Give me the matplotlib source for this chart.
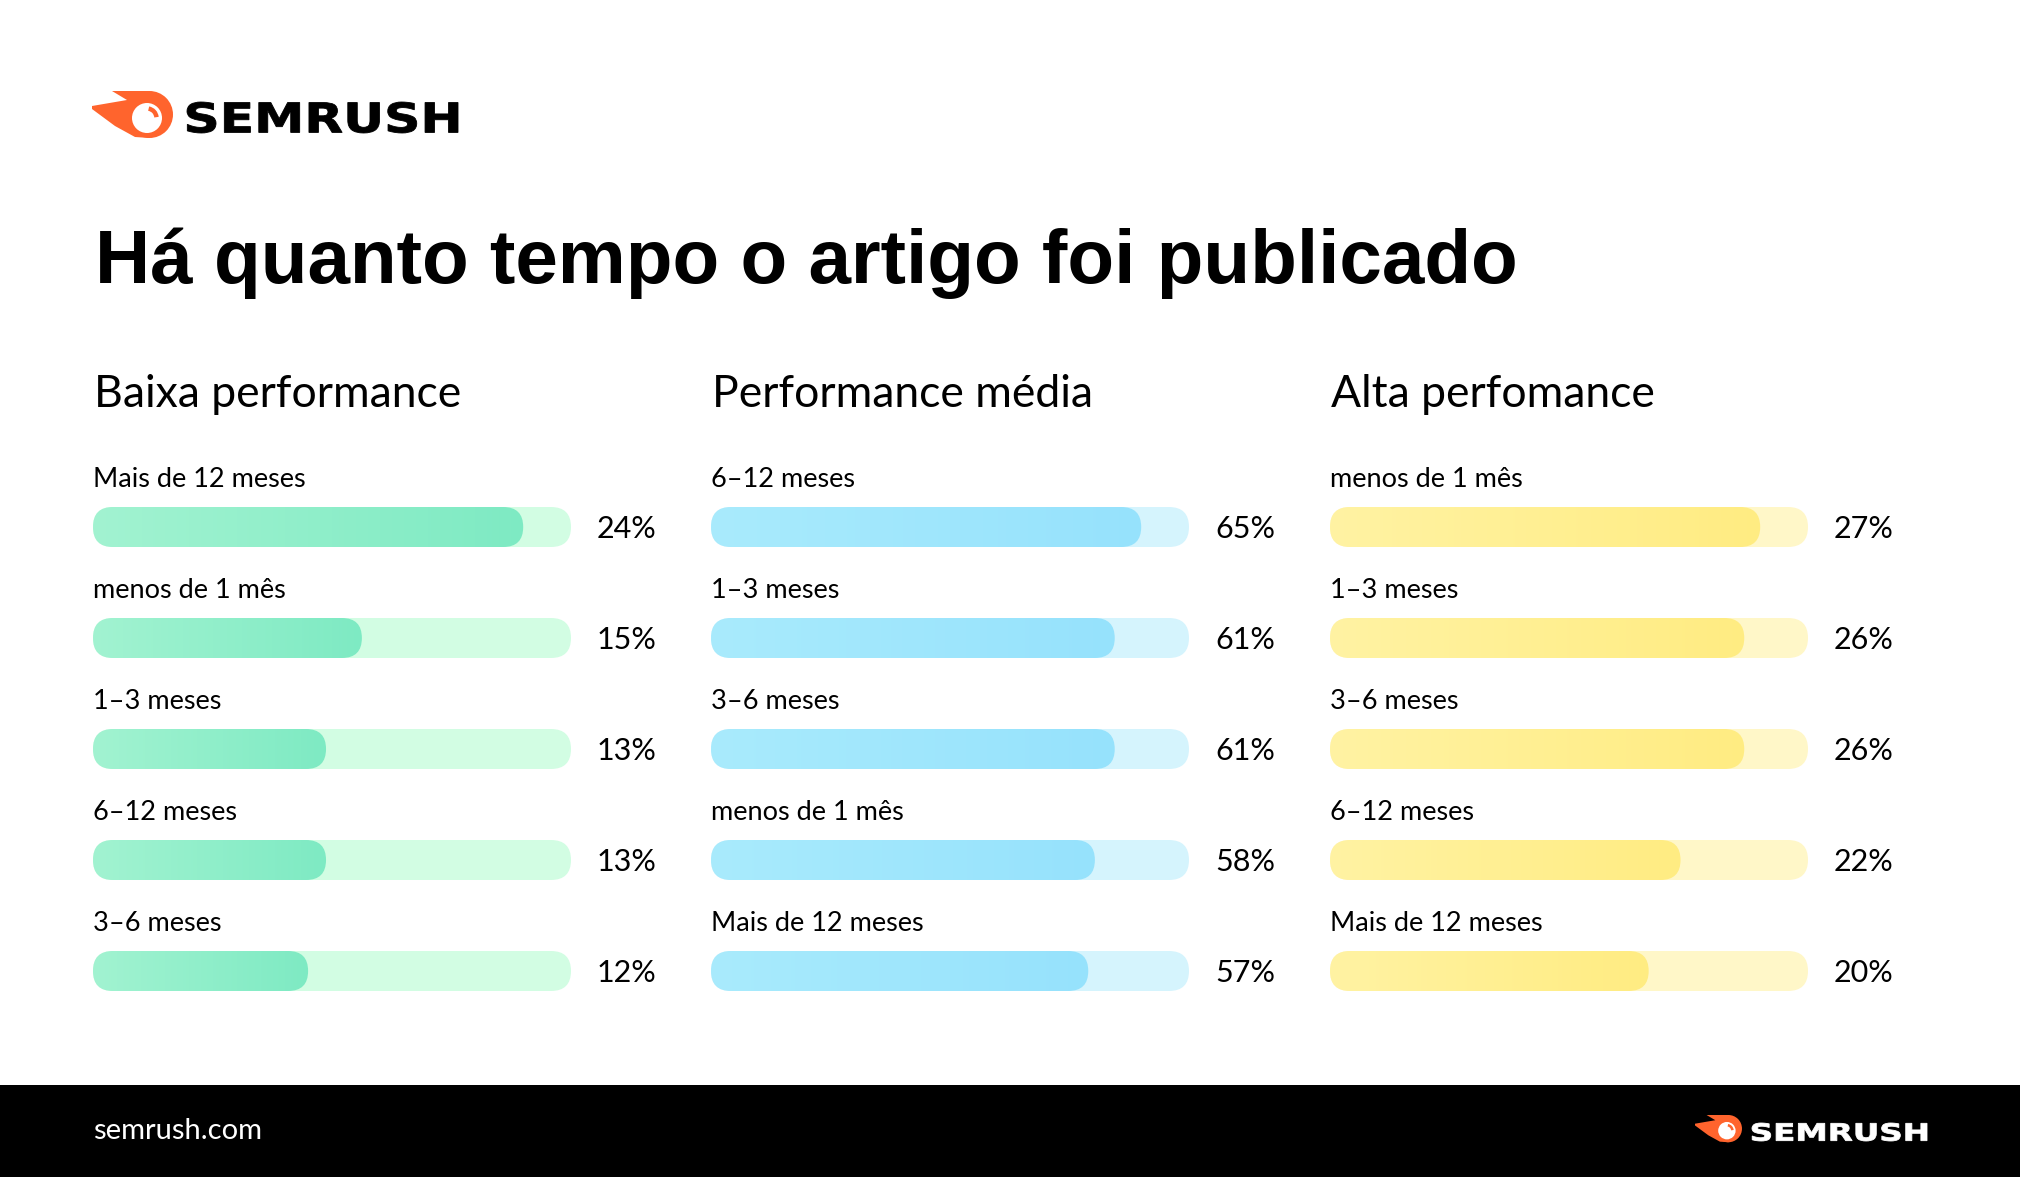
"""Semrush infographic: how long ago the article was published."""

import matplotlib
matplotlib.use("Agg")
import matplotlib.pyplot as plt  # noqa: E402
import numpy as np  # noqa: E402
from matplotlib.colors import LinearSegmentedColormap  # noqa: E402
from matplotlib.font_manager import FontProperties  # noqa: E402
from matplotlib.patches import (Arc, Circle, FancyBboxPatch, PathPatch,  # noqa: E402
                                Polygon, Rectangle)
from matplotlib.textpath import TextPath  # noqa: E402
from matplotlib.transforms import Affine2D  # noqa: E402

# --- data ---------------------------------------------------------------
title = "Há quanto tempo o artigo foi publicado"
panel_titles = ["Baixa performance", "Performance média", "Alta perfomance"]

low_labels = ["Mais de 12 meses", "menos de 1 mês", "1–3 meses", "6–12 meses", "3–6 meses"]
low_values = [24, 15, 13, 13, 12]

mid_labels = ["6–12 meses", "1–3 meses", "3–6 meses", "menos de 1 mês", "Mais de 12 meses"]
mid_values = [65, 61, 61, 58, 57]

high_labels = ["menos de 1 mês", "1–3 meses", "3–6 meses", "6–12 meses", "Mais de 12 meses"]
high_values = [27, 26, 26, 22, 20]

# --- layout (pixels) ----------------------------------------------------
W, H = 2020, 1177
FONT = "Lato"
ORANGE = "#ff642d"
panel_x = [93, 711, 1330]
track_w = 478
row_top = 527      # centre of first bar
row_gap = 111
bar_h = 40

palettes = [
    ("#a2f3d1", "#7eeac3", "#d2fde3"),
    ("#a9ebfd", "#96e2fc", "#d5f4fd"),
    ("#fff3a3", "#ffec82", "#fff7c8"),
]

fig = plt.figure(figsize=(W / 100, H / 100), dpi=100)
fig.patch.set_facecolor("white")

bg = fig.add_axes([0, 0, 1, 1])
bg.set_xlim(0, W)
bg.set_ylim(H, 0)
bg.axis("off")


def wordmark(ax, x0, x1, top, bottom, color):
    """Draw 'SEMRUSH' stretched into the box (pixel coords, y down)."""
    tp = TextPath((0, 0), "SEMRUSH", size=1,
                  prop=FontProperties(family="DejaVu Sans", weight="bold"))
    ext = tp.get_extents()
    sx = (x1 - x0) / ext.width
    sy = (bottom - top) / ext.height
    tr = Affine2D().translate(-ext.x0, -ext.y0).scale(sx, -sy).translate(x0, bottom)
    ax.add_patch(PathPatch(tr.transform_path(tp), fc=color, ec=color, lw=0.6))


def draw_logo(ax, x, y, s, text_color, text_box):
    """Semrush fireball; (x, y) = left edge / top of the icon."""
    flame = [(20, 0), (58, 0), (58, 47), (43, 46), (23, 35), (0, 18),
             (0, 15), (35, 9)]
    ax.add_patch(Polygon([(x + px * s, y + py * s) for px, py in flame],
                         closed=True, color=ORANGE, lw=0))
    cx, cy = x + 57.5 * s, y + 23.5 * s
    ax.add_patch(Circle((cx, cy), 23.5 * s, color=ORANGE, lw=0))
    wx, wy = x + 55 * s, y + 27 * s
    ax.add_patch(Circle((wx, wy), 15 * s, color="white", lw=0))
    ax.add_patch(Arc((wx, wy), 19 * s, 19 * s, theta1=-80, theta2=-5,
                     color=ORANGE, lw=3.2 * s))
    wordmark(ax, *text_box, text_color)


draw_logo(bg, 92, 91, 1.0, "black", (187, 458, 102, 133))

bg.text(95, 283, title, fontsize=55, fontweight="bold", family="Liberation Sans",
        va="baseline", ha="left", color="black")

# footer
bg.add_patch(Rectangle((0, 1085), W, H - 1085, color="black", lw=0))
bg.text(93, 1131, "semrush.com", fontsize=21, family=FONT, color="white",
        va="center", ha="left")
draw_logo(bg, 1695, 1115, 0.58, "white", (1752, 1927, 1123, 1141))

# --- panels -------------------------------------------------------------
panels = [
    (low_labels, low_values),
    (mid_labels, mid_values),
    (high_labels, high_values),
]

for i, (labels, values) in enumerate(panels):
    x0 = panel_x[i]
    left_c, right_c, track_c = palettes[i]
    cmap = LinearSegmentedColormap.from_list(f"grad{i}", [left_c, right_c])

    bg.text(x0 + 1, 407, panel_titles[i], fontsize=32, family=FONT,
            va="baseline", ha="left", color="black")

    top = row_top - row_gap / 2
    bottom = row_top + row_gap * (len(values) - 0.5)
    ax = fig.add_axes([x0 / W, 1 - bottom / H, track_w / W, (bottom - top) / H])
    ax.axis("off")

    xmax = max(values) / 0.9
    h = bar_h / row_gap
    rx = (bar_h / 2) * xmax / track_w
    ry = (bar_h / 2) / row_gap
    aspect = ry / rx
    grad = np.linspace(0, 1, 256).reshape(1, -1)

    for j, (lab, val) in enumerate(zip(labels, values)):
        track = FancyBboxPatch((0, j - h / 2), xmax, h,
                               boxstyle=f"round,pad=0,rounding_size={rx}",
                               mutation_aspect=aspect, fc=track_c, ec="none",
                               zorder=1)
        ax.add_patch(track)
        fill = FancyBboxPatch((0, j - h / 2), val, h,
                              boxstyle=f"round,pad=0,rounding_size={rx}",
                              mutation_aspect=aspect, fc="none", ec="none")
        ax.add_patch(fill)
        im = ax.imshow(grad, cmap=cmap, aspect="auto", interpolation="bilinear",
                       extent=(0, val, j + h / 2, j - h / 2), zorder=2)
        im.set_clip_path(fill)

        ax.text(0, j - 40 / row_gap, lab, fontsize=19.5, family=FONT,
                va="baseline", ha="left", color="black")
        ax.text(1 + 26 / track_w, j + 11 / row_gap, f"{val}%",
                transform=ax.get_yaxis_transform(),
                fontsize=22, family=FONT, va="baseline", ha="left", color="black")
    ax.set_xlim(0, xmax)
    ax.set_ylim(len(values) - 0.5, -0.5)

fig.savefig("out.png", dpi=100)
plt.close(fig)
